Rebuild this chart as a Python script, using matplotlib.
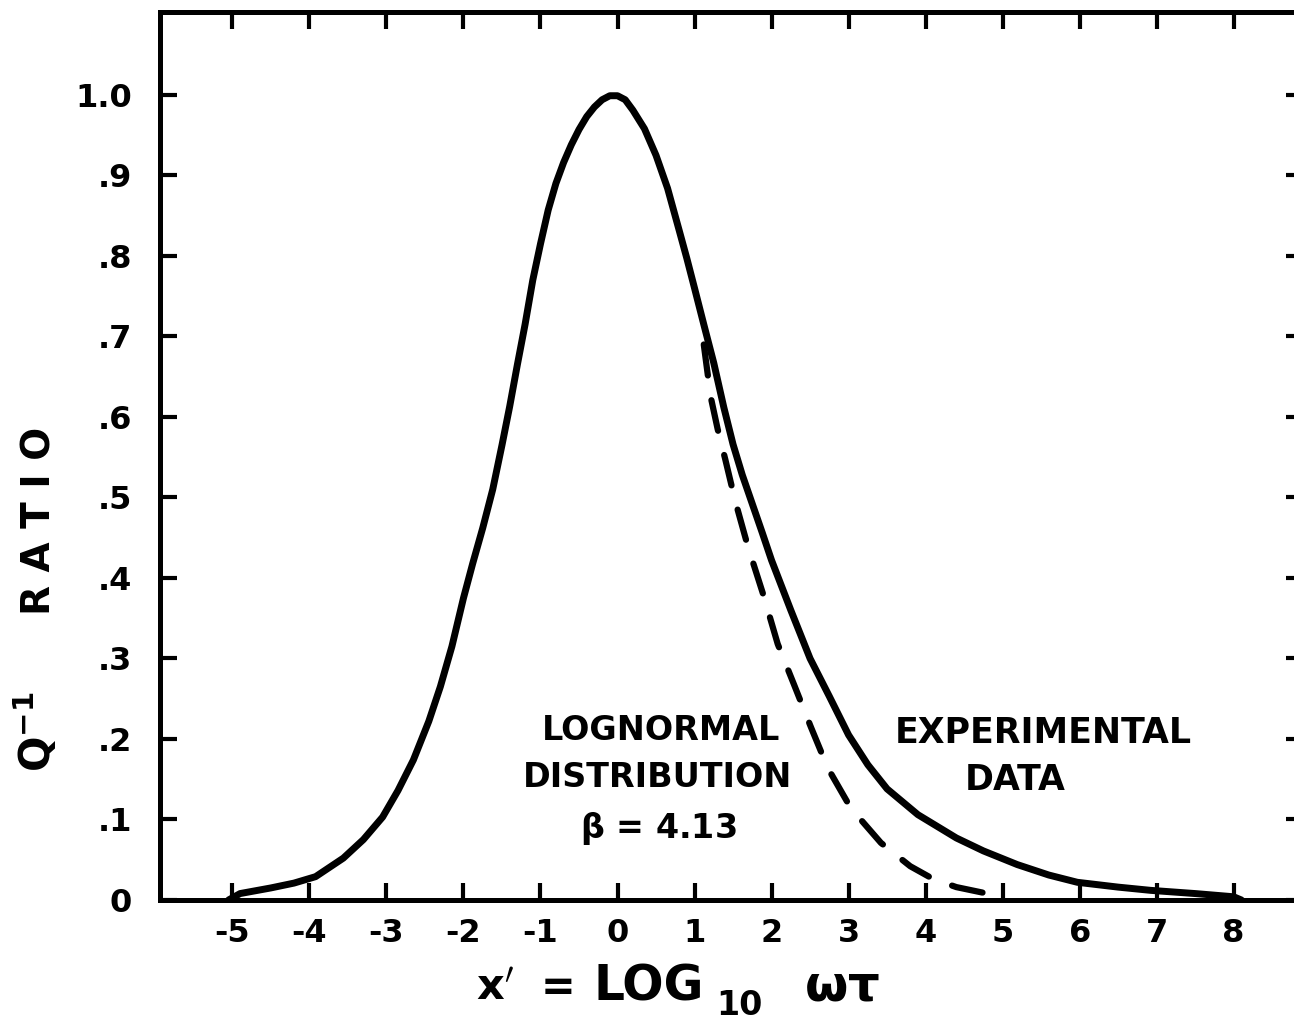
import matplotlib.pyplot as plt

plt.rcParams['font.family'] = ['DejaVu Sans']
plt.rcParams['font.weight'] = 'bold'
plt.rcParams['mathtext.fontset'] = 'dejavusans'
plt.rcParams['mathtext.default'] = 'bf'

# experimental data (solid)
exp_x = [-5.05, -4.9, -4.5, -4.2, -3.92, -3.56, -3.3, -3.05, -2.85, -2.65, -2.45, -2.3,
         -2.15, -2.0, -1.88, -1.75, -1.62, -1.5, -1.4, -1.3, -1.2, -1.1, -1.0, -0.9,
         -0.8, -0.7, -0.6, -0.5, -0.4, -0.3, -0.2, -0.1, 0.0, 0.1, 0.2, 0.35, 0.5,
         0.65, 0.8, 0.9, 1.0, 1.12, 1.25, 1.38, 1.5, 1.62, 1.75, 1.88, 2.0, 2.25,
         2.5, 2.75, 3.0, 3.25, 3.5, 3.9, 4.4, 4.75, 5.19, 5.6, 5.97, 6.5, 6.92,
         7.5, 8.0, 8.1]
exp_y = [0.0, 0.008, 0.015, 0.021, 0.029, 0.052, 0.075, 0.103, 0.136, 0.174, 0.222, 0.265,
         0.315, 0.375, 0.418, 0.462, 0.51, 0.565, 0.613, 0.665, 0.715, 0.77, 0.815, 0.857,
         0.89, 0.916, 0.938, 0.957, 0.973, 0.985, 0.994, 0.999, 0.999, 0.994, 0.981, 0.958, 0.925,
         0.884, 0.832, 0.797, 0.76, 0.715, 0.667, 0.612, 0.566, 0.528, 0.492, 0.456, 0.422, 0.36,
         0.3, 0.253, 0.205, 0.168, 0.138, 0.106, 0.077, 0.061, 0.044, 0.031, 0.022, 0.016, 0.012,
         0.008, 0.004, 0.0]

# lognormal distribution, beta = 4.13 (dashed)
logn_x = [1.12, 1.21, 1.30, 1.40, 1.53, 1.69, 1.9, 2.08, 2.29, 2.51, 2.73, 3.03, 3.42,
          3.8, 4.1, 4.4, 4.7, 4.95]
logn_y = [0.69, 0.625, 0.585, 0.547, 0.495, 0.44, 0.377, 0.318, 0.268, 0.215, 0.164, 0.114, 0.071,
          0.042, 0.026, 0.016, 0.01, 0.005]

x_ticks = [-5, -4, -3, -2, -1, 0, 1, 2, 3, 4, 5, 6, 7, 8]
x_labels = ['-5', '-4', '-3', '-2', '-1', '0', '1', '2', '3', '4', '5', '6', '7', '8']
y_ticks = [0, .1, .2, .3, .4, .5, .6, .7, .8, .9, 1.0]
y_labels = ['0', '.1', '.2', '.3', '.4', '.5', '.6', '.7', '.8', '.9', '1.0']

fig = plt.figure(figsize=(12.94, 10.21), dpi=100)
ax = fig.add_axes([160 / 1294, 121 / 1021, 1143 / 1294, 888 / 1021])

ax.plot(exp_x, exp_y, c='k', lw=5, solid_capstyle='round', solid_joinstyle='round')
ax.plot(logn_x, logn_y, c='k', lw=4.5, ls=(0, (5, 4)), dash_capstyle='round')

ax.set_xlim(-5.94, 8.9)
ax.set_ylim(0, 1.103)

for s in ax.spines.values():
    s.set_linewidth(3.6)

ax.set_xticks(x_ticks)
ax.set_xticklabels(x_labels)
ax.set_yticks(y_ticks)
ax.set_yticklabels(y_labels)
ax.tick_params(direction='in', length=12, width=3, top=True, right=True,
               labelsize=23, color='k')
ax.tick_params(axis='x', pad=13)
ax.tick_params(axis='y', pad=20)

ax.text(0.56, 0.211, 'LOGNORMAL', fontsize=24, ha='center', va='center')
ax.text(0.52, 0.152, 'DISTRIBUTION', fontsize=24, ha='center', va='center')
ax.text(0.53, 0.089, r'$\beta$ = 4.13', fontsize=24, ha='center', va='center')
ax.text(5.53, 0.207, 'EXPERIMENTAL', fontsize=25, ha='center', va='center')
ax.text(5.16, 0.149, 'DATA', fontsize=25, ha='center', va='center')

# axis titles
fig.text(40 / 1294, 1 - 521 / 1021, 'R A T I O', fontsize=28, rotation=90,
         ha='center', va='center')
fig.text(36 / 1294, 1 - 732 / 1021, r'Q$^{-1}$', fontsize=30, rotation=90,
         ha='center', va='center')

fig.text(476 / 1294, 1 - 1000 / 1021, r"x$^{\prime}$", fontsize=31, ha='left', va='baseline')
fig.text(558 / 1294, 1 - 1000 / 1021, '=', fontsize=30, ha='center', va='baseline')
fig.text(649 / 1294, 1 - 1000 / 1021, 'LOG', fontsize=35, ha='center', va='baseline')
fig.text(739 / 1294, 1 - 1015 / 1021, '10', fontsize=24, ha='center', va='baseline')
fig.text(842 / 1294, 1 - 1000 / 1021, r'$\omega\tau$', fontsize=36, ha='center', va='baseline')

fig.savefig('out.png', dpi=100)
